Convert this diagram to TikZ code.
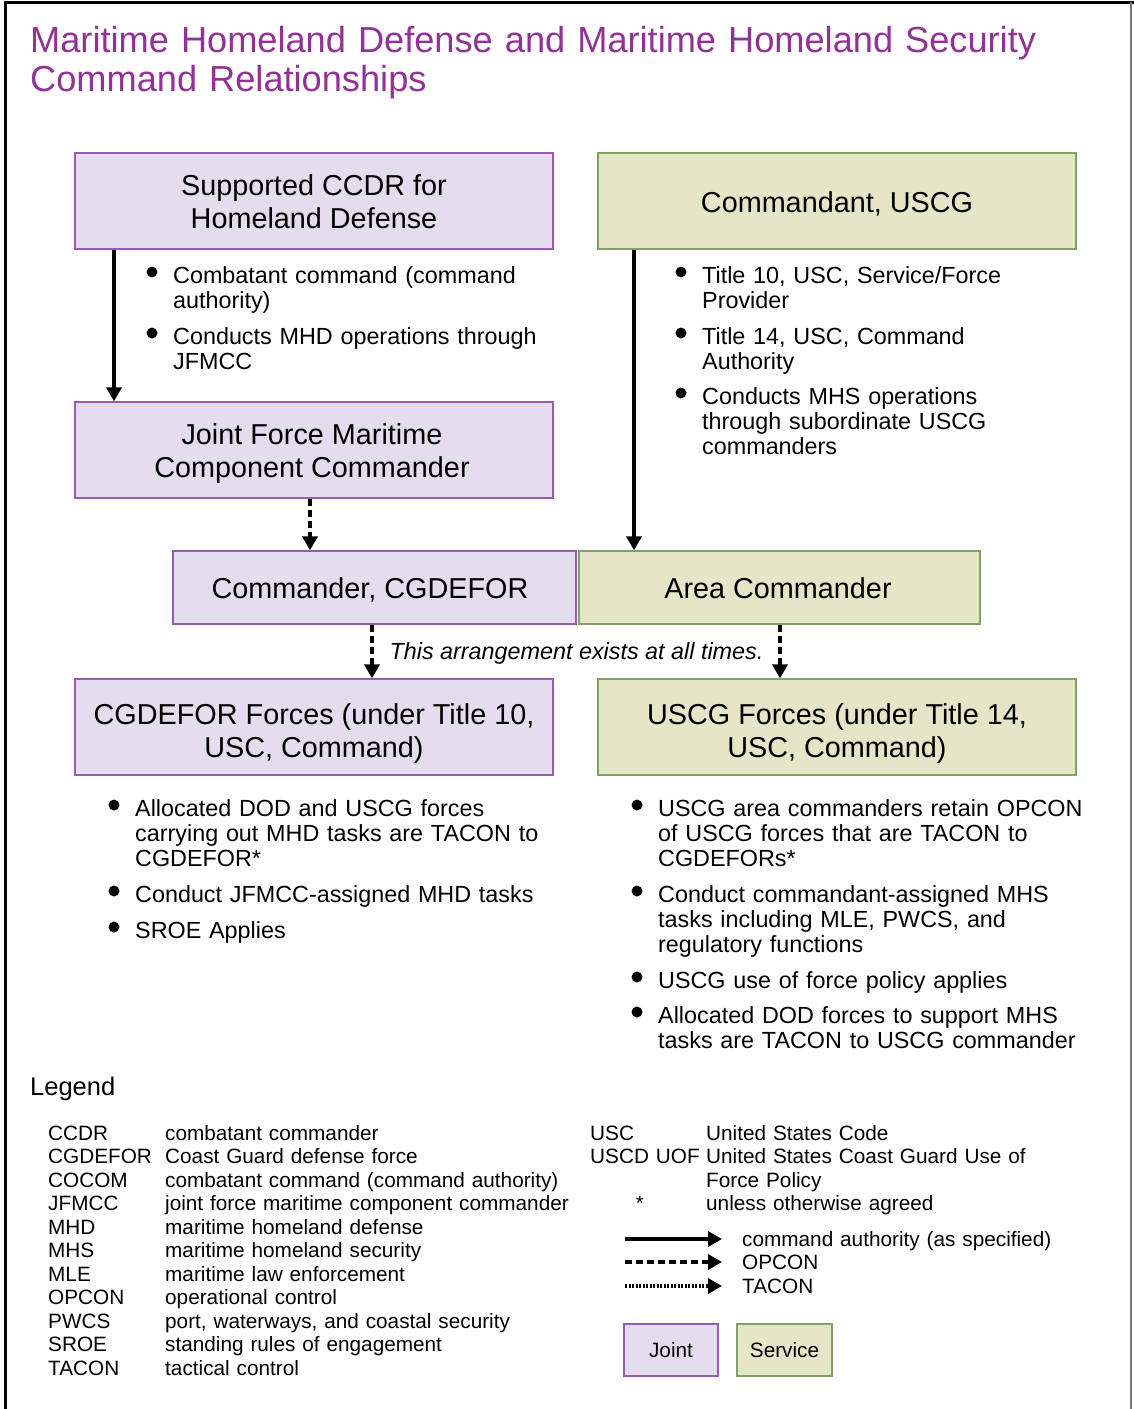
\documentclass[tikz,border=0pt]{standalone}
\usepackage{fontspec}
\setmainfont{Liberation Sans}
\usetikzlibrary{arrows.meta,calc}
\definecolor{titlepurple}{RGB}{146,50,150}
\definecolor{jfill}{RGB}{227,221,238}
\definecolor{jdraw}{RGB}{152,90,178}
\definecolor{sfill}{RGB}{228,230,199}
\definecolor{sdraw}{RGB}{130,162,98}
\definecolor{framegray}{RGB}{120,120,120}
\newcommand{\fsTitle}{\fontsize{36.2}{39}\selectfont}
\newcommand{\fsBox}{\fontsize{28.8}{32.5}\selectfont}
\newcommand{\fsItem}{\fontsize{23.35}{25}\selectfont}
\newcommand{\fsLeg}{\fontsize{20.75}{23.5}\selectfont}
\newcommand{\bulletitem}[4]{%
  \node[itemtext] (#1) at (#2,#3) {#4};
  \fill ($(#1.base west)+(-21,-11)$) circle (5.5pt);}
\tikzset{
  jointbox/.style={draw=jdraw, fill=jfill, line width=1.3pt, inner sep=0pt},
  servicebox/.style={draw=sdraw, fill=sfill, line width=1.3pt, inner sep=0pt},
  boxtext/.style={anchor=base, inner sep=0pt, align=center, font=\fsBox},
  itemtext/.style={anchor=base west, inner sep=0pt, text width=450pt, align=left, font=\fsItem},
  legtext/.style={anchor=base west, inner sep=0pt, text width=460pt, align=left, font=\fsLeg},
  cmdarrow/.style={line width=3.4pt, -{Triangle[length=14pt,width=15pt]}},
  opconarrow/.style={line width=3.4pt, dash pattern=on 7pt off 4pt, -{Triangle[length=14pt,width=15pt]}},
  taconarrow/.style={line width=3.4pt, dash pattern=on 2.2pt off 1.3pt, -{Triangle[length=14pt,width=15pt]}},
}
\begin{document}
\begin{tikzpicture}[x=1pt,y=-1pt]
\useasboundingbox (0,0) rectangle (1134,1409);
\fill[white] (0,0) rectangle (1134,1409);
% frame
\draw[line width=3pt, black] (5,1409) -- (5,2) -- (1134,2);
\draw[line width=1.3pt, framegray] (1131,2) -- (1131,1409);
% title
\node[anchor=base west, inner sep=0pt, text width=1100pt, align=left, font=\fsTitle, text=titlepurple] (title) at (30,52)
  {Maritime Homeland Defense and Maritime Homeland Security\\Command Relationships};
% boxes
\node[jointbox, minimum width=478pt, minimum height=96pt] (ccdr) at (314,201) {};
\node[boxtext] (ccdrtxt) at (314,228) {Supported CCDR for\\Homeland Defense};
\node[servicebox, minimum width=478pt, minimum height=96pt] (commandant) at (837,201) {};
\node[boxtext] (commandanttxt) at (837,212) {Commandant, USCG};
\node[jointbox, minimum width=478pt, minimum height=96pt] (jfmcc) at (314,450) {};
\node[boxtext] (jfmcctxt) at (312,477) {Joint Force Maritime\\Component Commander};
\node[jointbox, minimum width=403pt, minimum height=73pt] (cgdcmd) at (374.5,587.5) {};
\node[boxtext] (cgdcmdtxt) at (370,598) {Commander, CGDEFOR};
\node[servicebox, minimum width=401pt, minimum height=73pt] (area) at (779.5,587.5) {};
\node[boxtext] (areatxt) at (778,598) {Area Commander};
\node[jointbox, minimum width=478pt, minimum height=96pt] (cgdforces) at (314,727) {};
\node[boxtext] (cgdforcestxt) at (314,757) {\fontsize{28.8}{33}\selectfont CGDEFOR Forces (under Title 10,\\USC, Command)};
\node[servicebox, minimum width=478pt, minimum height=96pt] (uscgforces) at (837,727) {};
\node[boxtext] (uscgforcestxt) at (837,757) {\fontsize{28.8}{33}\selectfont USCG Forces (under Title 14,\\USC, Command)};
% connector columns
\coordinate (xa) at (114,0);
\coordinate (xb) at (634,0);
\coordinate (xc) at (310,0);
\coordinate (xd) at (372,0);
\coordinate (xe) at (780,0);
\draw[cmdarrow] (ccdr.south -| xa) -- (jfmcc.north -| xa);
\draw[cmdarrow] (commandant.south -| xb) -- (area.north -| xb);
\draw[opconarrow] (jfmcc.south -| xc) -- (cgdcmd.north -| xc);
\draw[opconarrow] (cgdcmd.south -| xd) -- (cgdforces.north -| xd);
\draw[opconarrow] (area.south -| xe) -- (uscgforces.north -| xe);
\node[anchor=base, inner sep=0pt, font=\fsItem\itshape] (always) at (576.5,659.5) {This arrangement exists at all times.};
% bullet lists
\bulletitem{tl1}{173}{283}{Combatant command (command\\authority)}
\bulletitem{tl2}{173}{344}{Conducts MHD operations through\\JFMCC}
\bulletitem{tr1}{702}{283}{Title 10, USC, Service/Force\\Provider}
\bulletitem{tr2}{702}{344}{Title 14, USC, Command\\Authority}
\bulletitem{tr3}{702}{404}{Conducts MHS operations\\through subordinate USCG\\commanders}
\bulletitem{bl1}{135}{816}{Allocated DOD and USCG forces\\carrying out MHD tasks are TACON to\\CGDEFOR*}
\bulletitem{bl2}{135}{902}{Conduct JFMCC-assigned MHD tasks}
\bulletitem{bl3}{135}{938}{SROE Applies}
\bulletitem{br1}{658}{816}{USCG area commanders retain OPCON\\of USCG forces that are TACON to\\CGDEFORs*}
\bulletitem{br2}{658}{902}{Conduct commandant-assigned MHS\\tasks including MLE, PWCS, and\\regulatory functions}
\bulletitem{br3}{658}{988}{USCG use of force policy applies}
\bulletitem{br4}{658}{1023}{Allocated DOD forces to support MHS\\tasks are TACON to USCG commander}
% legend
\node[anchor=base west, inner sep=0pt, font=\fontsize{25.5}{28}\selectfont] (legend) at (30,1095) {Legend};
\node[legtext, text width=115pt] (abbrL) at (48,1140)
  {CCDR\\CGDEFOR\\COCOM\\JFMCC\\MHD\\MHS\\MLE\\OPCON\\PWCS\\SROE\\TACON};
\node[legtext, text width=420pt] (defL) at (165,1140)
  {combatant commander\\Coast Guard defense force\\combatant command (command authority)\\joint force maritime component commander\\maritime homeland defense\\maritime homeland security\\maritime law enforcement\\operational control\\port, waterways, and coastal security\\standing rules of engagement\\tactical control};
\node[legtext, text width=115pt] (abbrR) at (590,1140) {USC\\USCD UOF};
\node[legtext, text width=420pt] (defR) at (706,1140)
  {United States Code\\United States Coast Guard Use of\\Force Policy\\unless otherwise agreed};
\node[anchor=base, inner sep=0pt, font=\fsLeg] (star) at (640,1210.5) {*};
% legend arrows
\coordinate (la1) at (625,1239); \coordinate (la2) at (722,1239);
\coordinate (lb1) at (625,1262); \coordinate (lb2) at (722,1262);
\coordinate (lc1) at (625,1286); \coordinate (lc2) at (722,1286);
\draw[cmdarrow] (la1) -- (la2);
\draw[opconarrow] (lb1) -- (lb2);
\draw[taconarrow] (lc1) -- (lc2);
\node[legtext, text width=340pt] (lcmd) at (742,1246) {command authority (as specified)};
\node[legtext, text width=340pt] (lop) at (742,1269) {OPCON};
\node[legtext, text width=340pt] (lta) at (742,1293) {TACON};
% legend boxes
\node[draw=jdraw, fill=jfill, line width=1.3pt, minimum width=94pt, minimum height=52pt, inner sep=0pt, font=\fsLeg] (joint) at (671,1350) {Joint};
\node[draw=sdraw, fill=sfill, line width=1.3pt, minimum width=95pt, minimum height=52pt, inner sep=0pt, font=\fsLeg] (service) at (784.5,1350) {Service};
\end{tikzpicture}
\end{document}
